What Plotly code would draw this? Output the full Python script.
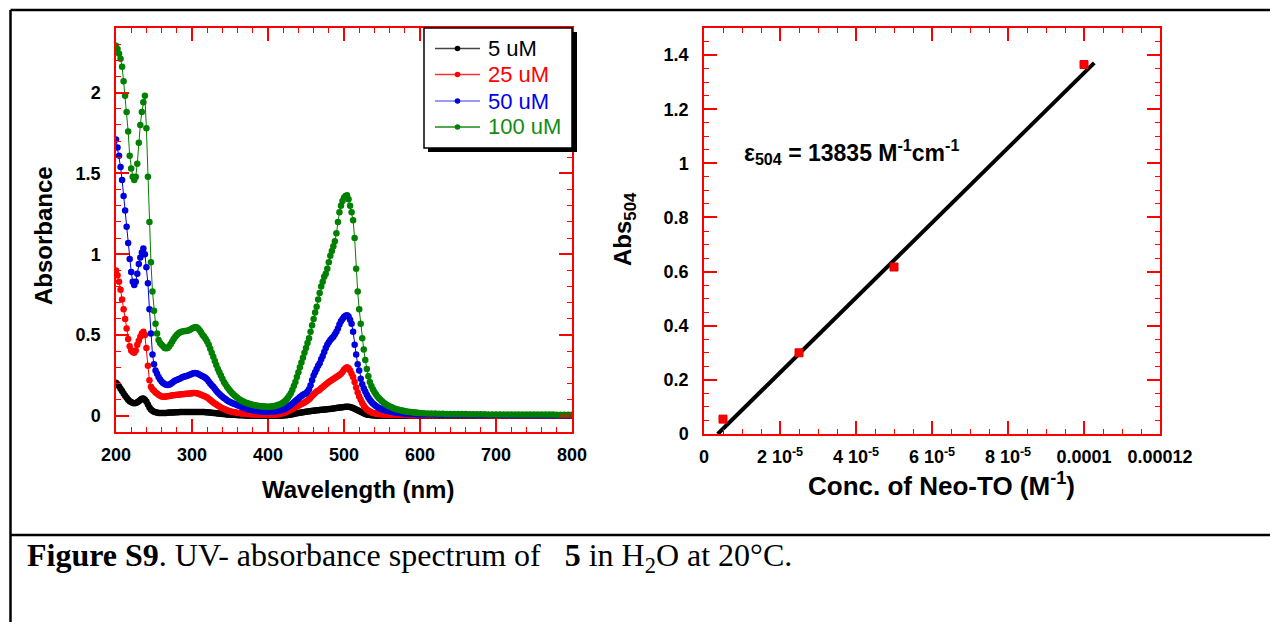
import plotly.graph_objects as go

# ---------------- data ----------------
wavelength = list(range(200, 600, 2)) + list(range(600, 801, 5))

abs_5uM = [
    0.205, 0.195, 0.182, 0.168, 0.153, 0.138, 0.125, 0.112, 0.100, 0.090,
    0.085, 0.080, 0.078, 0.079, 0.084, 0.090, 0.098, 0.105, 0.108, 0.100,
    0.088, 0.070, 0.052, 0.040, 0.032, 0.026, 0.022, 0.020, 0.018, 0.017,
    0.017, 0.017, 0.017, 0.018, 0.019, 0.020, 0.020, 0.021, 0.021, 0.022,
    0.022, 0.022, 0.023, 0.023, 0.023, 0.023, 0.024, 0.024, 0.024, 0.024,
    0.024, 0.024, 0.024, 0.024, 0.024, 0.024, 0.024, 0.023, 0.023, 0.022,
    0.022, 0.021, 0.020, 0.019, 0.018, 0.017, 0.016, 0.015, 0.014, 0.013,
    0.012, 0.011, 0.010, 0.009, 0.009, 0.008, 0.007, 0.006, 0.006, 0.005,
    0.005, 0.004, 0.004, 0.003, 0.003, 0.002, 0.002, 0.002, 0.001, 0.001,
    0.001, 0.000, 0.000, 0.000, 0.000, 0.000, 0.000, 0.000, 0.000, 0.000,
    0.000, 0.000, 0.000, 0.000, 0.000, 0.000, 0.001, 0.001, 0.001, 0.002,
    0.002, 0.003, 0.004, 0.005, 0.006, 0.008, 0.010, 0.012, 0.014, 0.016,
    0.018, 0.019, 0.021, 0.022, 0.024, 0.025, 0.027, 0.028, 0.029, 0.031,
    0.032, 0.033, 0.034, 0.035, 0.036, 0.037, 0.038, 0.039, 0.040, 0.041,
    0.042, 0.043, 0.044, 0.046, 0.047, 0.048, 0.050, 0.051, 0.052, 0.053,
    0.055, 0.056, 0.057, 0.056, 0.054, 0.051, 0.048, 0.044, 0.040, 0.035,
    0.030, 0.025, 0.020, 0.016, 0.012, 0.009, 0.007, 0.005, 0.004, 0.003,
    0.002, 0.002, 0.001, 0.001, 0.001, 0.001, 0.001, 0.001, 0.001, 0.000,
    0.000, 0.000, 0.000, 0.000, 0.000, 0.000, 0.000, 0.000, 0.000, 0.000,
    0.000, 0.000, 0.000, 0.000, 0.000, 0.000, 0.000, 0.000, 0.000, 0.000,
    0.000, 0.000, 0.000, 0.000, 0.000, 0.000, 0.000, 0.000, 0.000, 0.000,
    0.000, 0.000, 0.000, 0.000, 0.000, 0.000, 0.000, 0.000, 0.000, 0.000,
    0.000, 0.000, 0.000, 0.000, 0.000, 0.000, 0.000, 0.000, 0.000, 0.000,
    0.000, 0.000, 0.000, 0.000, 0.000, 0.000, 0.000, 0.000, 0.000, 0.000,
    0.000,
]

abs_25uM = [
    0.900, 0.870, 0.830, 0.780, 0.720, 0.660, 0.600, 0.540, 0.475, 0.430,
    0.405, 0.395, 0.390, 0.405, 0.440, 0.465, 0.490, 0.510, 0.520, 0.500,
    0.420, 0.310, 0.220, 0.180, 0.165, 0.155, 0.145, 0.138, 0.130, 0.124,
    0.120, 0.118, 0.118, 0.119, 0.121, 0.123, 0.125, 0.127, 0.128, 0.129,
    0.130, 0.131, 0.132, 0.133, 0.134, 0.135, 0.136, 0.137, 0.138, 0.139,
    0.140, 0.141, 0.141, 0.140, 0.138, 0.134, 0.130, 0.126, 0.122, 0.118,
    0.113, 0.106, 0.098, 0.090, 0.083, 0.077, 0.070, 0.064, 0.058, 0.052,
    0.047, 0.043, 0.039, 0.035, 0.032, 0.029, 0.026, 0.024, 0.022, 0.020,
    0.018, 0.017, 0.016, 0.015, 0.014, 0.013, 0.012, 0.011, 0.010, 0.009,
    0.009, 0.008, 0.008, 0.007, 0.007, 0.007, 0.006, 0.006, 0.006, 0.006,
    0.006, 0.006, 0.006, 0.007, 0.007, 0.008, 0.009, 0.010, 0.012, 0.014,
    0.017, 0.020, 0.024, 0.028, 0.033, 0.038, 0.043, 0.048, 0.053, 0.058,
    0.063, 0.068, 0.073, 0.078, 0.083, 0.088, 0.095, 0.103, 0.112, 0.122,
    0.132, 0.142, 0.150, 0.156, 0.162, 0.170, 0.178, 0.186, 0.194, 0.202,
    0.210, 0.216, 0.222, 0.228, 0.234, 0.240, 0.246, 0.252, 0.260, 0.272,
    0.285, 0.295, 0.300, 0.295, 0.280, 0.260, 0.240, 0.210, 0.175, 0.145,
    0.120, 0.100, 0.080, 0.063, 0.050, 0.040, 0.033, 0.027, 0.022, 0.018,
    0.016, 0.014, 0.012, 0.011, 0.010, 0.009, 0.009, 0.008, 0.008, 0.007,
    0.007, 0.007, 0.006, 0.006, 0.006, 0.006, 0.005, 0.005, 0.005, 0.005,
    0.005, 0.005, 0.005, 0.004, 0.004, 0.004, 0.004, 0.004, 0.004, 0.004,
    0.004, 0.004, 0.004, 0.003, 0.003, 0.003, 0.003, 0.003, 0.003, 0.003,
    0.003, 0.003, 0.003, 0.003, 0.003, 0.002, 0.002, 0.002, 0.002, 0.002,
    0.002, 0.002, 0.002, 0.002, 0.002, 0.002, 0.002, 0.002, 0.002, 0.002,
    0.002, 0.002, 0.002, 0.002, 0.002, 0.002, 0.002, 0.002, 0.002, 0.002,
    0.002,
]

abs_50uM = [
    1.710, 1.660, 1.610, 1.540, 1.460, 1.360, 1.270, 1.170, 1.070, 0.970,
    0.890, 0.830, 0.810, 0.830, 0.880, 0.940, 0.980, 1.010, 1.035, 1.000,
    0.920, 0.820, 0.660, 0.510, 0.380, 0.320, 0.280, 0.260, 0.240, 0.225,
    0.212, 0.203, 0.197, 0.193, 0.191, 0.193, 0.198, 0.205, 0.212, 0.218,
    0.222, 0.226, 0.230, 0.235, 0.240, 0.243, 0.245, 0.248, 0.252, 0.256,
    0.260, 0.263, 0.265, 0.264, 0.260, 0.255, 0.250, 0.245, 0.240, 0.234,
    0.225, 0.213, 0.200, 0.190, 0.180, 0.168, 0.155, 0.145, 0.135, 0.126,
    0.118, 0.110, 0.104, 0.097, 0.091, 0.086, 0.081, 0.077, 0.073, 0.070,
    0.066, 0.062, 0.058, 0.054, 0.050, 0.047, 0.044, 0.041, 0.039, 0.037,
    0.035, 0.033, 0.031, 0.030, 0.029, 0.028, 0.027, 0.027, 0.026, 0.026,
    0.026, 0.026, 0.027, 0.027, 0.028, 0.029, 0.030, 0.032, 0.034, 0.036,
    0.039, 0.043, 0.048, 0.054, 0.061, 0.068, 0.075, 0.083, 0.092, 0.100,
    0.108, 0.116, 0.123, 0.130, 0.135, 0.140, 0.150, 0.165, 0.190, 0.220,
    0.250, 0.270, 0.290, 0.310, 0.325, 0.350, 0.370, 0.395, 0.420, 0.440,
    0.455, 0.470, 0.480, 0.490, 0.505, 0.520, 0.540, 0.565, 0.585, 0.600,
    0.612, 0.620, 0.623, 0.615, 0.595, 0.570, 0.520, 0.440, 0.380, 0.320,
    0.280, 0.230, 0.195, 0.170, 0.150, 0.130, 0.113, 0.099, 0.087, 0.077,
    0.068, 0.061, 0.054, 0.049, 0.045, 0.041, 0.038, 0.035, 0.032, 0.030,
    0.028, 0.026, 0.024, 0.022, 0.020, 0.019, 0.018, 0.017, 0.016, 0.015,
    0.014, 0.013, 0.013, 0.012, 0.012, 0.011, 0.011, 0.010, 0.010, 0.010,
    0.009, 0.009, 0.008, 0.008, 0.008, 0.007, 0.007, 0.007, 0.007, 0.006,
    0.006, 0.006, 0.006, 0.006, 0.005, 0.005, 0.005, 0.005, 0.005, 0.005,
    0.005, 0.005, 0.004, 0.004, 0.004, 0.004, 0.004, 0.004, 0.004, 0.004,
    0.004, 0.004, 0.004, 0.004, 0.003, 0.003, 0.003, 0.003, 0.003, 0.003,
    0.003,
]

abs_100uM = [
    2.290, 2.270, 2.240, 2.210, 2.160, 2.070, 1.980, 1.880, 1.760, 1.610,
    1.530, 1.480, 1.460, 1.480, 1.560, 1.690, 1.800, 1.880, 1.940, 1.980,
    1.780, 1.480, 1.200, 0.950, 0.770, 0.650, 0.570, 0.510, 0.470, 0.450,
    0.440, 0.430, 0.420, 0.418, 0.420, 0.430, 0.445, 0.460, 0.475, 0.490,
    0.500, 0.510, 0.515, 0.520, 0.522, 0.525, 0.525, 0.527, 0.530, 0.535,
    0.540, 0.545, 0.548, 0.548, 0.540, 0.530, 0.515, 0.500, 0.490, 0.475,
    0.460, 0.440, 0.415, 0.390, 0.365, 0.340, 0.315, 0.290, 0.270, 0.250,
    0.230, 0.210, 0.195, 0.180, 0.168, 0.156, 0.145, 0.135, 0.126, 0.118,
    0.110, 0.103, 0.097, 0.092, 0.087, 0.083, 0.079, 0.076, 0.073, 0.070,
    0.068, 0.066, 0.064, 0.062, 0.061, 0.060, 0.059, 0.058, 0.058, 0.057,
    0.057, 0.057, 0.058, 0.059, 0.060, 0.062, 0.065, 0.068, 0.072, 0.077,
    0.083, 0.090, 0.100, 0.110, 0.124, 0.140, 0.160, 0.185, 0.210, 0.240,
    0.270, 0.300, 0.330, 0.360, 0.390, 0.420, 0.450, 0.480, 0.520, 0.560,
    0.600, 0.640, 0.675, 0.720, 0.760, 0.800, 0.830, 0.860, 0.880, 0.910,
    0.950, 0.990, 1.020, 1.050, 1.080, 1.130, 1.200, 1.260, 1.300, 1.330,
    1.350, 1.360, 1.365, 1.340, 1.300, 1.260, 1.210, 1.100, 0.910, 0.770,
    0.660, 0.570, 0.480, 0.410, 0.345, 0.290, 0.245, 0.210, 0.185, 0.165,
    0.148, 0.133, 0.120, 0.109, 0.099, 0.090, 0.082, 0.075, 0.069, 0.063,
    0.058, 0.054, 0.050, 0.046, 0.043, 0.040, 0.037, 0.035, 0.033, 0.031,
    0.029, 0.027, 0.026, 0.024, 0.023, 0.022, 0.021, 0.020, 0.019, 0.018,
    0.017, 0.016, 0.015, 0.014, 0.014, 0.013, 0.013, 0.012, 0.012, 0.012,
    0.011, 0.011, 0.011, 0.010, 0.010, 0.010, 0.010, 0.010, 0.009, 0.009,
    0.009, 0.009, 0.009, 0.009, 0.009, 0.008, 0.008, 0.008, 0.008, 0.008,
    0.008, 0.008, 0.008, 0.008, 0.008, 0.008, 0.007, 0.007, 0.007, 0.007,
    0.007,
]

series_names = ["5 uM", "25 uM", "50 uM", "100 uM"]
series_values = [abs_5uM, abs_25uM, abs_50uM, abs_100uM]

# calibration (right panel)
conc_M = [5e-6, 2.5e-5, 5e-5, 1e-4]
abs_504 = [0.055, 0.300, 0.617, 1.365]
fit_conc = [3.6e-6, 1.027e-4]
fit_abs = [0.000, 1.371]

conc_tickvals = [0, 2e-5, 4e-5, 6e-5, 8e-5, 1e-4, 1.2e-4]
conc_ticktext = ["0", "2 10<sup>-5</sup>", "4 10<sup>-5</sup>", "6 10<sup>-5</sup>",
                 "8 10<sup>-5</sup>", "0.0001", "0.00012"]

# ---------------- styling ----------------
dot_colors = ["#000000", "#ff0000", "#0000dd", "#008000"]
legend_line_colors = ["#444444", "#ff3030", "#7878f0", "#1a8a1a"]
legend_text_colors = ["#000000", "#ff0000", "#0000ee", "#128c12"]
RED = "#ff0000"
SANS = "Liberation Sans, Arial, sans-serif"
SERIF = "Liberation Serif, Times New Roman, serif"

W, H = 1262, 614
OFF = 8  # page body margin


def px(x):
    return (x - OFF) / W


def py(y):
    return 1 - (y - OFF) / H


fig = go.Figure()

for name, vals, col in zip(series_names, series_values, dot_colors):
    fig.add_trace(go.Scatter(
        x=wavelength, y=vals, name=name, mode="lines+markers",
        line=dict(color=col, width=1), marker=dict(size=6.5, color=col),
        xaxis="x", yaxis="y", showlegend=False))

fig.add_trace(go.Scatter(
    x=fit_conc, y=fit_abs, mode="lines", line=dict(color="black", width=4),
    xaxis="x2", yaxis="y2", showlegend=False))
fig.add_trace(go.Scatter(
    x=conc_M, y=abs_504, mode="markers",
    marker=dict(symbol="square", size=8, color="#ff0000",
                line=dict(color="#e00000", width=1)),
    xaxis="x2", yaxis="y2", showlegend=False))

tickfont = dict(family=SANS, size=18, color="black", weight="bold")
common = dict(showline=True, linecolor=RED, linewidth=1.5, mirror="allticks",
              ticks="inside", ticklen=13, tickwidth=1.5, tickcolor=RED,
              showgrid=False, zeroline=False, tickfont=tickfont, automargin=False)

fig.update_layout(
    width=W, height=H,
    margin=dict(l=0, r=0, t=0, b=0, pad=0, autoexpand=False),
    paper_bgcolor="white", plot_bgcolor="white",
    showlegend=False,
    xaxis=dict(domain=[px(116), px(572)], range=[200, 800], anchor="y",
               tick0=200, dtick=100, ticklabelstandoff=6,
               minor=dict(ticks="inside", ticklen=5, tickcolor=RED, tickwidth=1,
                          tick0=200, dtick=20, showgrid=False),
               **common),
    yaxis=dict(domain=[py(432), py(28)], range=[-0.1, 2.4], anchor="x",
               tick0=0, dtick=0.5, ticklabelstandoff=10,
               minor=dict(ticks="inside", ticklen=5, tickcolor=RED, tickwidth=1,
                          tick0=0, dtick=0.1, showgrid=False),
               **common),
    xaxis2=dict(domain=[px(704), px(1160)], range=[0, 1.2e-4], anchor="y2",
                tickmode="array", tickvals=conc_tickvals, ticktext=conc_ticktext,
                ticklabelstandoff=6,
                minor=dict(ticks="inside", ticklen=5, tickcolor=RED, tickwidth=1,
                           tick0=0, dtick=5e-6, showgrid=False),
                **common),
    yaxis2=dict(domain=[py(434), py(28)], range=[0, 1.5], anchor="x2",
                tick0=0, dtick=0.2, ticklabelstandoff=10,
                minor=dict(ticks="inside", ticklen=5, tickcolor=RED, tickwidth=1,
                           tick0=0, dtick=0.05, showgrid=False),
                **common),
)

shapes = []
# outer frame lines of the figure block
shapes.append(dict(type="line", xref="paper", yref="paper",
                   x0=px(10.5), x1=1, y0=py(10), y1=py(10),
                   line=dict(color="black", width=2.5)))
shapes.append(dict(type="line", xref="paper", yref="paper",
                   x0=px(10.5), x1=px(10.5), y0=py(10), y1=0,
                   line=dict(color="black", width=2.5)))
shapes.append(dict(type="line", xref="paper", yref="paper",
                   x0=px(10.5), x1=1, y0=py(535), y1=py(535),
                   line=dict(color="black", width=2.5)))
# legend box with drop shadow
shapes.append(dict(type="rect", xref="paper", yref="paper", layer="above",
                   x0=px(428), x1=px(577), y0=py(152), y1=py(32),
                   fillcolor="black", line=dict(width=0)))
shapes.append(dict(type="rect", xref="paper", yref="paper", layer="above",
                   x0=px(424), x1=px(572), y0=py(148), y1=py(28),
                   fillcolor="white", line=dict(color="black", width=1.5)))

annotations = []
legend_rows = [48.5, 74.5, 101, 127]
for name, lc, dc, tc, ry in zip(series_names, legend_line_colors, dot_colors,
                                legend_text_colors, legend_rows):
    shapes.append(dict(type="line", xref="paper", yref="paper", layer="above",
                       x0=px(435), x1=px(480), y0=py(ry), y1=py(ry),
                       line=dict(color=lc, width=1.3)))
    shapes.append(dict(type="circle", xref="paper", yref="paper", layer="above",
                       xsizemode="pixel", ysizemode="pixel",
                       xanchor=px(457.5), yanchor=py(ry),
                       x0=-2.8, x1=2.8, y0=-2.8, y1=2.8,
                       fillcolor=dc, line=dict(width=0)))
    annotations.append(dict(text=name, xref="paper", yref="paper",
                            x=px(486), y=py(ry), xanchor="left", yanchor="middle",
                            showarrow=False,
                            font=dict(family=SANS, size=22, color=tc)))

title_font = dict(family=SANS, size=24, color="black")
annotations += [
    dict(text="<b>Wavelength (nm)</b>", xref="paper", yref="paper",
         x=px(358), y=py(489), xanchor="center", yanchor="middle",
         showarrow=False, font=title_font),
    dict(text="<b>Absorbance</b>", xref="paper", yref="paper",
         x=px(44), y=py(236), xanchor="center", yanchor="middle",
         textangle=-90, showarrow=False, font=title_font),
    dict(text="<b>Conc. of Neo-TO (M<sup>-1</sup>)</b>", xref="paper", yref="paper",
         x=px(941), y=py(484), xanchor="center", yanchor="middle",
         showarrow=False, font=dict(family=SANS, size=26, color="black")),
    dict(text="<b>Abs<sub>504</sub></b>", xref="paper", yref="paper",
         x=px(625), y=py(229), xanchor="center", yanchor="middle",
         textangle=-90, showarrow=False, font=title_font),
    dict(text="<b>\u03b5<sub>504</sub> = 13835 M<sup>-1</sup>cm<sup>-1</sup></b>",
         xref="paper", yref="paper", x=px(742), y=py(152),
         xanchor="left", yanchor="middle", showarrow=False,
         font=dict(family=SANS, size=23, color="black")),
    dict(text="<b>Figure S9</b>. UV- absorbance spectrum of\u00a0\u00a0\u00a0<b>5</b> in "
              "H<sub>2</sub>O at 20\u00b0C.",
         xref="paper", yref="paper", x=px(25), y=py(557),
         xanchor="left", yanchor="middle", showarrow=False,
         font=dict(family=SERIF, size=32, color="black")),
]

fig.update_layout(shapes=shapes, annotations=annotations)
fig.write_html("out.html")
